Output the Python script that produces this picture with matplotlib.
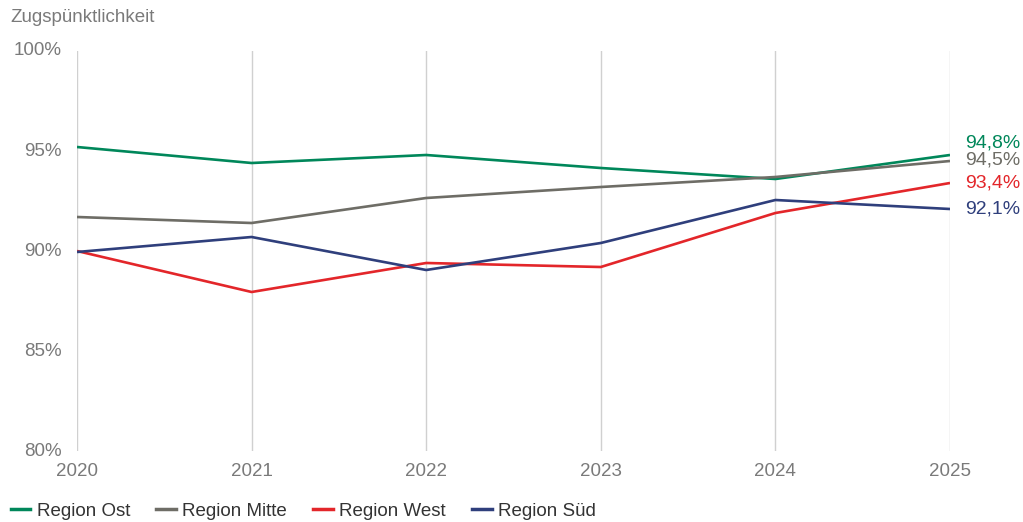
import matplotlib.pyplot as plt
from matplotlib.lines import Line2D

plt.rcParams['font.family'] = ['Liberation Sans', 'DejaVu Sans']

years = [2020, 2021, 2022, 2023, 2024, 2025]
ost = [95.2, 94.4, 94.8, 94.15, 93.6, 94.8]
mitte = [91.7, 91.4, 92.65, 93.2, 93.7, 94.5]
west = [90.0, 87.95, 89.4, 89.2, 91.9, 93.4]
sued = [89.95, 90.7, 89.05, 90.4, 92.55, 92.1]

series = [
    ("Region Ost", ost, "#00875a"),
    ("Region Mitte", mitte, "#6e6d66"),
    ("Region West", west, "#e3262a"),
    ("Region Süd", sued, "#2f3f7c"),
]
# vertical nudge of end labels (in points) so they don't collide
label_shift = [9, 1, 0, 0]

txt = "#7a7a7a"
fig = plt.figure(figsize=(10.23, 5.22), dpi=100)
ax = fig.add_axes([77 / 1023, 1 - 451 / 522, 873 / 1023, 400 / 522])

for (name, vals, col), dy in zip(series, label_shift):
    ax.plot(years, vals, color=col, lw=1.9, solid_capstyle='butt', zorder=3)
    ax.annotate(f"{vals[-1]:.1f}%".replace('.', ','), (years[-1], vals[-1]),
                xytext=(11, dy), textcoords='offset points',
                va='center', ha='left', fontsize=14, color=col)

ax.set_xlim(2020, 2025)
ax.set_ylim(80, 100)
ax.set_xticks(years)
ax.set_xticklabels([str(y) for y in years])
ax.set_yticks([80, 85, 90, 95, 100])
ax.set_yticklabels(["80%", "85%", "90%", "95%", "100%"])
ax.grid(axis='x', color='#d0d0d0', lw=1)
ax.set_axisbelow(True)
for s in ax.spines.values():
    s.set_visible(False)
ax.tick_params(length=0, labelsize=13.5, colors=txt)
ax.tick_params(axis='x', pad=9)
ax.tick_params(axis='y', pad=11)
for lab in ax.get_yticklabels():
    lab.set_va('center')

fig.text(10 / 1023, 1 - 18 / 522, "Zugspünktlichkeit", fontsize=13.5,
         color=txt, va='center', ha='left')

handles = [Line2D([], [], color=c, lw=2.5) for _, _, c in series]
fig.legend(handles, [n for n, _, _ in series], loc='center left',
           bbox_to_anchor=(7 / 1023, 1 - 511 / 522), ncol=4, frameon=False,
           fontsize=13.5, handlelength=1.05, handletextpad=0.35,
           columnspacing=1.38, borderaxespad=0, borderpad=0.2,
           labelcolor='#333333')

fig.savefig("out.png", dpi=100)
